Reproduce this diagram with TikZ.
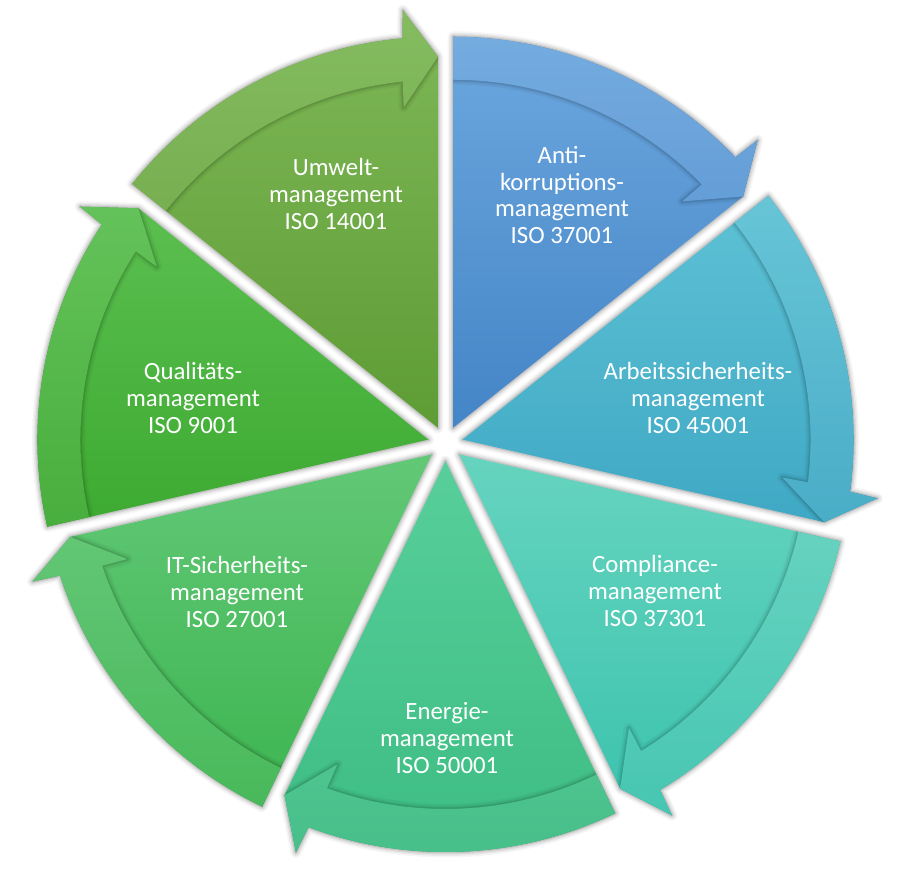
\documentclass[tikz,border=0pt]{standalone}
\usepackage{fontspec}
\setmainfont{Carlito}
\definecolor{umT}{HTML}{7EB857}\definecolor{umB}{HTML}{5E9C35}
\definecolor{anT}{HTML}{6CA7DE}\definecolor{anB}{HTML}{4485C7}
\definecolor{arT}{HTML}{5EC2D5}\definecolor{arB}{HTML}{3FA8C4}
\definecolor{coT}{HTML}{66D4BF}\definecolor{coB}{HTML}{3BC3AE}
\definecolor{enT}{HTML}{58CF9B}\definecolor{enB}{HTML}{3CBC82}
\definecolor{itT}{HTML}{62C877}\definecolor{itB}{HTML}{3DB550}
\definecolor{quT}{HTML}{5BBF50}\definecolor{quB}{HTML}{3DAA31}
\newcommand\cycseg[3]{%
  \pgfmathsetmacro\sgB{#1-25.7143}%
  \pgfmathsetmacro\sgE{#1-51.4286}%
  \pgfmathsetmacro\sgHo{\sgE+5.2}%
  \pgfmathsetmacro\sgHi{\sgE+5.8}%
  \pgfmathsetmacro\sgWo{\sgE+4.8}%
  \pgfmathsetmacro\sgWi{\sgE+6.1}%
  \pgfmathsetmacro\sgCx{445.5+17.5*cos(\sgB)}%
  \pgfmathsetmacro\sgCy{-443.5+17.5*sin(\sgB)}%
  \begin{scope}[shift={(\sgCx,\sgCy)}]
    \def\sgOut{(0,0) -- (#1:391) arc[start angle=#1, end angle=\sgHo, radius=293.25pt] -- (\sgWo:419) -- (\sgE:371) -- cycle}%
    \def\sgBand{(#1:348) -- (#1:391) arc[start angle=#1, end angle=\sgHo, radius=293.25pt] -- (\sgWo:419) -- (\sgE:371) -- (\sgWi:322) -- (\sgHi:348) arc[start angle=\sgHi, end angle=#1, radius=261pt] -- cycle}%
    \foreach \hw/\ho in {11/0.035,8/0.05,5/0.07,2.5/0.09}
      \draw[line width=\hw*0.75pt, draw opacity=\ho, line join=round] \sgOut;
    \shade[top color=#2, bottom color=#3] \sgOut;
    \begin{scope}
      \clip \sgOut;
      \foreach \hw/\ho in {10/0.04,6/0.06,3/0.09}
        \draw[line width=\hw*0.75pt, draw opacity=\ho, line join=round] \sgBand;
      \clip \sgBand;
      \shade[top color=#2, bottom color=#3] \sgOut;
      \fill[white, opacity=0.06] \sgBand;
    \end{scope}
  \end{scope}}
\tikzset{lbl/.style={text=white, align=center, font=\fontsize{18.6}{20}\selectfont, inner sep=0pt}}
\begin{document}
\begin{tikzpicture}[x=0.75pt,y=0.75pt]
\useasboundingbox (0,-889) rectangle (901,0);
\fill[white] (0,-889) rectangle (901,0);
\cycseg{141.4286}{umT}{umB}
\cycseg{90}{anT}{anB}
\cycseg{38.5714}{arT}{arB}
\cycseg{-12.8571}{coT}{coB}
\cycseg{-64.2857}{enT}{enB}
\cycseg{-115.7143}{itT}{itB}
\cycseg{-167.1429}{quT}{quB}
\node[lbl] (umwelt) at (336,-194) {Umwelt-\\management\\ISO 14001};
\node[lbl] (anti) at (562,-195) {Anti-\\korruptions-\\management\\ISO 37001};
\node[lbl] (arbeit) at (698,-398) {Arbeitssicherheits-\\management\\ISO 45001};
\node[lbl] (compl) at (655,-591) {Compliance-\\management\\ISO 37301};
\node[lbl] (energie) at (447,-738) {Energie-\\management\\ISO 50001};
\node[lbl] (itsec) at (237,-592) {IT-Sicherheits-\\management\\ISO 27001};
\node[lbl] (quali) at (193,-398) {Qualitäts-\\management\\ISO 9001};
\end{tikzpicture}
\end{document}
